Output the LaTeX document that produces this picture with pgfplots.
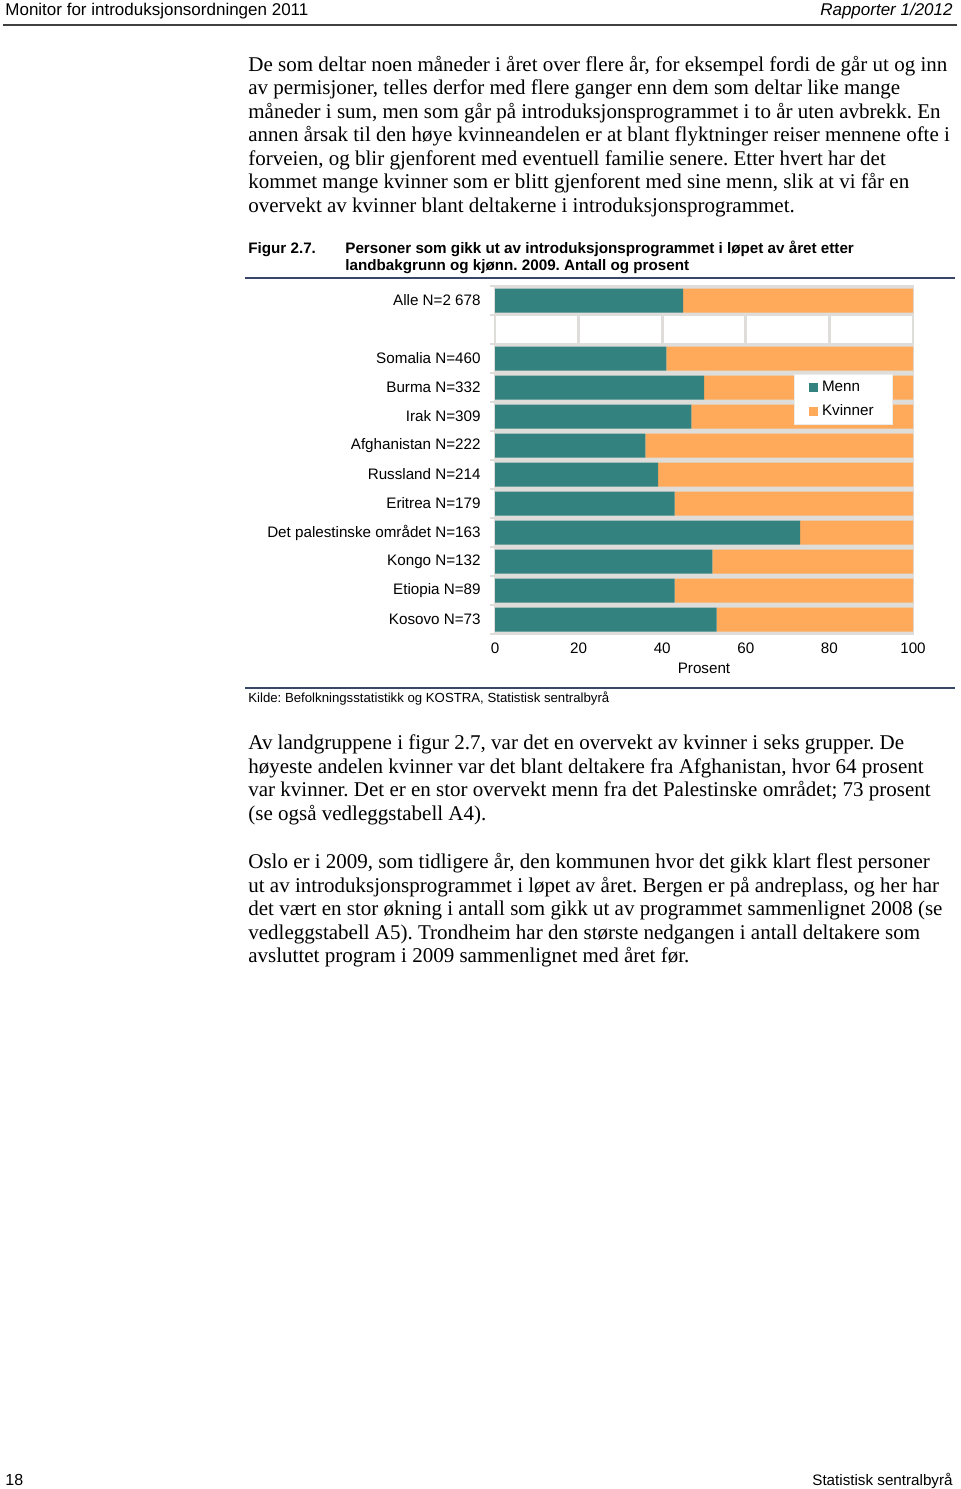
\documentclass[border=0pt]{standalone}
\usepackage{fontspec}
\setmainfont{Liberation Serif}
\setsansfont{Liberation Sans}
\usepackage{pgfplots}
\pgfplotsset{compat=1.18}
\frenchspacing
\definecolor{tealc}{RGB}{52,130,128}
\definecolor{orng}{RGB}{255,170,90}
\definecolor{rowgrey}{RGB}{222,221,217}
\definecolor{navy}{RGB}{58,70,104}
\newcommand\body{\fontsize{10.5}{12}\selectfont}
\newcommand\csf{\sffamily\fontsize{7.6}{9}\selectfont}
\newcommand\bl[2]{\node[anchor=base west, inner sep=0pt, font=\body] at (248,#1) {#2};}
\begin{document}
\begin{tikzpicture}[x=0.5pt,y=-0.5pt]
\fill[white] (0,0) rectangle (960,1489);
\useasboundingbox (0,0) rectangle (960,1489);
% header
\node[anchor=base west, inner sep=0pt, font=\sffamily\fontsize{8.5}{10}\selectfont] at (5,15) {Monitor for introduksjonsordningen 2011};
\node[anchor=base east, inner sep=0pt, font=\sffamily\itshape\fontsize{8.5}{10}\selectfont] at (953,15) {Rapporter 1/2012};
\draw[black!75, line width=0.6pt] (3,25) -- (957,25);
% paragraph 1
\bl{71}{De som deltar noen måneder i året over flere år, for eksempel fordi de går ut og inn}
\bl{94.5}{av permisjoner, telles derfor med flere ganger enn dem som deltar like mange}
\bl{118}{måneder i sum, men som går på introduksjonsprogrammet i to år uten avbrekk. En}
\bl{141.5}{annen årsak til den høye kvinneandelen er at blant flyktninger reiser mennene ofte i}
\bl{165}{forveien, og blir gjenforent med eventuell familie senere. Etter hvert har det}
\bl{188.5}{kommet mange kvinner som er blitt gjenforent med sine menn, slik at vi får en}
\bl{212}{overvekt av kvinner blant deltakerne i introduksjonsprogrammet.}
% figure title
\node[anchor=base west, inner sep=0pt, font=\sffamily\bfseries\fontsize{7.6}{9}\selectfont] at (248,253.5) {Figur 2.7.};
\node[anchor=base west, inner sep=0pt, font=\sffamily\bfseries\fontsize{7.6}{9}\selectfont] at (345,253.5) {Personer som gikk ut av introduksjonsprogrammet i løpet av året etter};
\node[anchor=base west, inner sep=0pt, font=\sffamily\bfseries\fontsize{7.6}{9}\selectfont] at (345,270.5) {landbakgrunn og kjønn. 2009. Antall og prosent};
\draw[navy, line width=1pt] (245,278) -- (955,278);
\draw[navy, line width=1pt] (245,688) -- (955,688);
\node[anchor=base west, inner sep=0pt, font=\sffamily\fontsize{6.6}{8}\selectfont] at (248,702.5) {Kilde: Befolkningsstatistikk og KOSTRA, Statistisk sentralbyrå};
% background axis: grey rows and grid
\begin{axis}[at={(247.5pt,-317pt)}, anchor=south west, width=209pt, height=174pt, scale only axis,
  xmin=0, xmax=100, ymin=-0.5, ymax=11.5,
  axis line style={rowgrey, line width=1.2pt},
  xtick={20,40,60,80}, xticklabels={}, xmajorgrids, grid style={rowgrey, line width=1.6pt},
  xtick style={draw=none},
  ytick={-0.5,0.5,...,11.5}, yticklabels={}, ytick style={rowgrey, line width=1.2pt},
  tick align=outside, major tick length=2.5pt, ytick pos=left]
\addplot[xbar, bar width=15.4pt, fill=rowgrey, draw=none] coordinates {(100,0)(100,1)(100,2)(100,3)(100,4)(100,5)(100,6)(100,7)(100,8)(100,9)(100,11)};
\end{axis}
% foreground axis: stacked bars
\begin{axis}[at={(247.5pt,-317pt)}, anchor=south west, width=209pt, height=174pt, scale only axis,
  xmin=0, xmax=100, ymin=-0.5, ymax=11.5,
  xbar stacked, bar width=12pt,
  axis line style={draw=none}, tick style={draw=none},
  ytick={0,1,2,3,4,5,6,7,8,9,11},
  yticklabels={Kosovo N=73, Etiopia N=89, Kongo N=132, Det palestinske området N=163, Eritrea N=179, Russland N=214, Afghanistan N=222, Irak N=309, Burma N=332, Somalia N=460, Alle N=2 678},
  xtick={0,20,40,60,80,100},
  /pgf/number format/assume math mode=true,
  ticklabel style={font=\csf},
  yticklabel style={anchor=east, inner sep=0pt, xshift=-7pt},
  xticklabel style={anchor=north, inner sep=0pt, yshift=-4pt},
  xlabel={Prosent}, xlabel style={font=\csf, inner sep=0pt, yshift=-4.5pt},
  legend style={at={(0.715,0.746)}, anchor=north west, draw=rowgrey!60, fill=white, font=\csf,
    inner xsep=7.5pt, inner ysep=1pt, row sep=1pt},
  legend cell align=left,
  legend image code/.code={\fill[#1] (0pt,-2.2pt) rectangle (4.4pt,2.2pt);}]
\addplot[fill=tealc, draw=none] coordinates {(45,11)(41,9)(50,8)(47,7)(36,6)(39,5)(43,4)(73,3)(52,2)(43,1)(53,0)};
\addplot[fill=orng, draw=none] coordinates {(55,11)(59,9)(50,8)(53,7)(64,6)(61,5)(57,4)(27,3)(48,2)(57,1)(47,0)};
\legend{Menn, Kvinner}
\end{axis}
% paragraph 2
\bl{749.5}{Av landgruppene i figur 2.7, var det en overvekt av kvinner i seks grupper. De}
\bl{773}{høyeste andelen kvinner var det blant deltakere fra Afghanistan, hvor 64 prosent}
\bl{796.5}{var kvinner. Det er en stor overvekt menn fra det Palestinske området; 73 prosent}
\bl{820}{(se også vedleggstabell A4).}
% paragraph 3
\bl{868.5}{Oslo er i 2009, som tidligere år, den kommunen hvor det gikk klart flest personer}
\bl{892}{ut av introduksjonsprogrammet i løpet av året. Bergen er på andreplass, og her har}
\bl{915.5}{det vært en stor økning i antall som gikk ut av programmet sammenlignet 2008 (se}
\bl{939}{vedleggstabell A5). Trondheim har den største nedgangen i antall deltakere som}
\bl{962.5}{avsluttet program i 2009 sammenlignet med året før.}
% footer
\node[anchor=base west, inner sep=0pt, font=\sffamily\fontsize{8}{10}\selectfont] at (5,1485) {18};
\node[anchor=base east, inner sep=0pt, font=\sffamily\fontsize{7.6}{10}\selectfont] at (953,1485) {Statistisk sentralbyrå};
\end{tikzpicture}
\end{document}
